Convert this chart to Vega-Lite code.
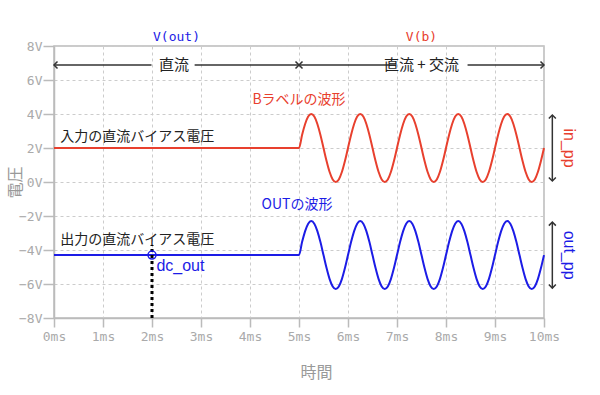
{
  "$schema": "https://vega.github.io/schema/vega-lite/v6.json",
  "autosize": {"type": "none"},
  "width": 490,
  "height": 272,
  "padding": {"left": 54, "top": 46, "right": 56, "bottom": 77},
  "background": "white",
  "config": {
    "font": "Noto Sans CJK JP",
    "view": {"stroke": "#bbbbbb", "strokeWidth": 1.5}
  },
  "datasets": {
    "wave": [
      {"t": 0, "vb": 2, "vout": -4.3},
      {"t": 5, "vb": 2, "vout": -4.3},
      {"t": 5.0625, "vb": 2.765, "vout": -3.535},
      {"t": 5.125, "vb": 3.414, "vout": -2.886},
      {"t": 5.1875, "vb": 3.848, "vout": -2.452},
      {"t": 5.25, "vb": 4, "vout": -2.3},
      {"t": 5.3125, "vb": 3.848, "vout": -2.452},
      {"t": 5.375, "vb": 3.414, "vout": -2.886},
      {"t": 5.4375, "vb": 2.765, "vout": -3.535},
      {"t": 5.5, "vb": 2, "vout": -4.3},
      {"t": 5.5625, "vb": 1.235, "vout": -5.065},
      {"t": 5.625, "vb": 0.586, "vout": -5.714},
      {"t": 5.6875, "vb": 0.152, "vout": -6.148},
      {"t": 5.75, "vb": 0, "vout": -6.3},
      {"t": 5.8125, "vb": 0.152, "vout": -6.148},
      {"t": 5.875, "vb": 0.586, "vout": -5.714},
      {"t": 5.9375, "vb": 1.235, "vout": -5.065},
      {"t": 6, "vb": 2, "vout": -4.3},
      {"t": 6.0625, "vb": 2.765, "vout": -3.535},
      {"t": 6.125, "vb": 3.414, "vout": -2.886},
      {"t": 6.1875, "vb": 3.848, "vout": -2.452},
      {"t": 6.25, "vb": 4, "vout": -2.3},
      {"t": 6.3125, "vb": 3.848, "vout": -2.452},
      {"t": 6.375, "vb": 3.414, "vout": -2.886},
      {"t": 6.4375, "vb": 2.765, "vout": -3.535},
      {"t": 6.5, "vb": 2, "vout": -4.3},
      {"t": 6.5625, "vb": 1.235, "vout": -5.065},
      {"t": 6.625, "vb": 0.586, "vout": -5.714},
      {"t": 6.6875, "vb": 0.152, "vout": -6.148},
      {"t": 6.75, "vb": 0, "vout": -6.3},
      {"t": 6.8125, "vb": 0.152, "vout": -6.148},
      {"t": 6.875, "vb": 0.586, "vout": -5.714},
      {"t": 6.9375, "vb": 1.235, "vout": -5.065},
      {"t": 7, "vb": 2, "vout": -4.3},
      {"t": 7.0625, "vb": 2.765, "vout": -3.535},
      {"t": 7.125, "vb": 3.414, "vout": -2.886},
      {"t": 7.1875, "vb": 3.848, "vout": -2.452},
      {"t": 7.25, "vb": 4, "vout": -2.3},
      {"t": 7.3125, "vb": 3.848, "vout": -2.452},
      {"t": 7.375, "vb": 3.414, "vout": -2.886},
      {"t": 7.4375, "vb": 2.765, "vout": -3.535},
      {"t": 7.5, "vb": 2, "vout": -4.3},
      {"t": 7.5625, "vb": 1.235, "vout": -5.065},
      {"t": 7.625, "vb": 0.586, "vout": -5.714},
      {"t": 7.6875, "vb": 0.152, "vout": -6.148},
      {"t": 7.75, "vb": 0, "vout": -6.3},
      {"t": 7.8125, "vb": 0.152, "vout": -6.148},
      {"t": 7.875, "vb": 0.586, "vout": -5.714},
      {"t": 7.9375, "vb": 1.235, "vout": -5.065},
      {"t": 8, "vb": 2, "vout": -4.3},
      {"t": 8.0625, "vb": 2.765, "vout": -3.535},
      {"t": 8.125, "vb": 3.414, "vout": -2.886},
      {"t": 8.1875, "vb": 3.848, "vout": -2.452},
      {"t": 8.25, "vb": 4, "vout": -2.3},
      {"t": 8.3125, "vb": 3.848, "vout": -2.452},
      {"t": 8.375, "vb": 3.414, "vout": -2.886},
      {"t": 8.4375, "vb": 2.765, "vout": -3.535},
      {"t": 8.5, "vb": 2, "vout": -4.3},
      {"t": 8.5625, "vb": 1.235, "vout": -5.065},
      {"t": 8.625, "vb": 0.586, "vout": -5.714},
      {"t": 8.6875, "vb": 0.152, "vout": -6.148},
      {"t": 8.75, "vb": 0, "vout": -6.3},
      {"t": 8.8125, "vb": 0.152, "vout": -6.148},
      {"t": 8.875, "vb": 0.586, "vout": -5.714},
      {"t": 8.9375, "vb": 1.235, "vout": -5.065},
      {"t": 9, "vb": 2, "vout": -4.3},
      {"t": 9.0625, "vb": 2.765, "vout": -3.535},
      {"t": 9.125, "vb": 3.414, "vout": -2.886},
      {"t": 9.1875, "vb": 3.848, "vout": -2.452},
      {"t": 9.25, "vb": 4, "vout": -2.3},
      {"t": 9.3125, "vb": 3.848, "vout": -2.452},
      {"t": 9.375, "vb": 3.414, "vout": -2.886},
      {"t": 9.4375, "vb": 2.765, "vout": -3.535},
      {"t": 9.5, "vb": 2, "vout": -4.3},
      {"t": 9.5625, "vb": 1.235, "vout": -5.065},
      {"t": 9.625, "vb": 0.586, "vout": -5.714},
      {"t": 9.6875, "vb": 0.152, "vout": -6.148},
      {"t": 9.75, "vb": 0, "vout": -6.3},
      {"t": 9.8125, "vb": 0.152, "vout": -6.148},
      {"t": 9.875, "vb": 0.586, "vout": -5.714},
      {"t": 9.9375, "vb": 1.235, "vout": -5.065},
      {"t": 10, "vb": 2, "vout": -4.3}
    ]
  },
  "layer": [
    {
      "data": {"name": "wave"},
      "transform": [{"fold": ["vb", "vout"], "as": ["s", "v"]}],
      "mark": {"type": "line", "strokeWidth": 2, "interpolate": "monotone"},
      "encoding": {
        "x": {
          "field": "t", "type": "quantitative",
          "scale": {"domain": [0, 10], "nice": false},
          "axis": {
            "values": [0, 1, 2, 3, 4, 5, 6, 7, 8, 9, 10],
            "labelExpr": "datum.value + 'ms'",
            "labelFont": "DejaVu Sans Mono",
            "labelFontSize": 13,
            "labelColor": "#aaaaaa",
            "labelPadding": 3,
            "labelFlush": false,
            "labelOverlap": false,
            "domainColor": "#bbbbbb",
            "domainWidth": 1.5,
            "tickColor": "#bbbbbb",
            "tickWidth": 1.5,
            "tickSize": 9,
            "gridColor": "#cccccc",
            "gridDash": [3, 3],
            "title": "時間",
            "titleFont": "Noto Sans CJK JP",
            "titleFontSize": 16,
            "titleFontWeight": "normal",
            "titleColor": "#999999",
            "titleX": 262,
            "titleY": 54,
            "titleBaseline": "middle"
          }
        },
        "y": {
          "field": "v", "type": "quantitative",
          "scale": {"domain": [-8, 8], "nice": false},
          "axis": {
            "tickCount": 8,
            "labelExpr": "format(datum.value, 'd') + 'V'",
            "labelFont": "DejaVu Sans Mono",
            "labelFontSize": 13,
            "labelColor": "#aaaaaa",
            "labelPadding": 1,
            "labelFlush": false,
            "labelOverlap": false,
            "labelSeparation": 0,
            "domainColor": "#bbbbbb",
            "domainWidth": 1.5,
            "tickColor": "#bbbbbb",
            "tickWidth": 1.5,
            "tickSize": 11,
            "gridColor": "#cccccc",
            "gridDash": [3, 3],
            "title": "電圧",
            "titleFont": "Noto Sans CJK JP",
            "titleFontSize": 16,
            "titleFontWeight": "normal",
            "titleColor": "#999999",
            "titleX": -39,
            "titleBaseline": "middle"
          }
        },
        "color": {
          "field": "s", "type": "nominal",
          "scale": {"domain": ["vb", "vout"], "range": ["#e8402e", "#1c1ce6"]},
          "legend": null
        }
      }
    },
    {
      "data": {"values": [{"x": 2, "y": -8, "y2": -3.7}]},
      "mark": {"type": "rule", "color": "#000000", "strokeWidth": 3, "strokeDash": [3, 3]},
      "encoding": {
        "x": {"field": "x", "type": "quantitative"},
        "y": {"field": "y", "type": "quantitative"},
        "y2": {"field": "y2"}
      }
    },
    {
      "data": {"values": [{"x": 2, "y": -4.3}]},
      "mark": {"type": "point", "shape": "circle", "filled": false, "size": 64, "strokeWidth": 1.5, "color": "#1c1ce6", "opacity": 1},
      "encoding": {
        "x": {"field": "x", "type": "quantitative"},
        "y": {"field": "y", "type": "quantitative"}
      }
    },
    {
      "data": {"values": [
        {"x": 0, "x2": 1.99, "y": 6.88, "y2": 6.88},
        {"x": 2.87, "x2": 5, "y": 6.88, "y2": 6.88},
        {"x": 5, "x2": 6.97, "y": 6.88, "y2": 6.88},
        {"x": 8.44, "x2": 10, "y": 6.88, "y2": 6.88},
        {"x": 10.17, "x2": 10.17, "y": 3.94, "y2": 0.06},
        {"x": 10.17, "x2": 10.17, "y": -2.36, "y2": -6.24}
      ]},
      "mark": {"type": "rule", "color": "#333333", "strokeWidth": 1.5},
      "encoding": {
        "x": {"field": "x", "type": "quantitative"},
        "x2": {"field": "x2"},
        "y": {"field": "y", "type": "quantitative"},
        "y2": {"field": "y2"}
      }
    },
    {
      "data": {"values": [
        {"x": 0, "y": 6.88, "d": "l"},
        {"x": 5, "y": 6.88, "d": "r"},
        {"x": 5, "y": 6.88, "d": "l"},
        {"x": 10, "y": 6.88, "d": "r"},
        {"x": 10.17, "y": 3.94, "d": "u"},
        {"x": 10.17, "y": 0.06, "d": "d"},
        {"x": 10.17, "y": -2.36, "d": "u"},
        {"x": 10.17, "y": -6.24, "d": "d"}
      ]},
      "mark": {"type": "point", "filled": false, "size": 49, "strokeWidth": 1.5, "color": "#333333", "opacity": 1},
      "encoding": {
        "x": {"field": "x", "type": "quantitative"},
        "y": {"field": "y", "type": "quantitative"},
        "shape": {
          "field": "d", "type": "nominal",
          "scale": {"domain": ["l", "r", "u", "d"], "range": ["M1,-1L0,0L1,1", "M-1,-1L0,0L-1,1", "M-1,1L0,0L1,1", "M-1,-1L0,0L1,-1"]},
          "legend": null
        }
      }
    },
    {
      "data": {"values": [
        {"x": 2.5, "y": 8.53, "label": "V(out)", "s": "vout"},
        {"x": 7.5, "y": 8.53, "label": "V(b)", "s": "vb"}
      ]},
      "mark": {"type": "text", "font": "DejaVu Sans Mono", "fontSize": 13, "align": "center", "baseline": "middle"},
      "encoding": {
        "x": {"field": "x", "type": "quantitative"},
        "y": {"field": "y", "type": "quantitative"},
        "text": {"field": "label"},
        "color": {"field": "s", "type": "nominal"}
      }
    },
    {
      "data": {"values": [
        {"x": 2.45, "y": 6.88, "label": "直流"},
        {"x": 7.5, "y": 6.88, "label": "直流 + 交流"}
      ]},
      "mark": {"type": "text", "font": "Noto Sans CJK JP", "fontSize": 15, "align": "center", "baseline": "middle", "color": "#222222"},
      "encoding": {
        "x": {"field": "x", "type": "quantitative"},
        "y": {"field": "y", "type": "quantitative"},
        "text": {"field": "label"}
      }
    },
    {
      "data": {"values": [
        {"x": 0.13, "y": 2.65, "label": "入力の直流バイアス電圧"},
        {"x": 0.13, "y": -3.4, "label": "出力の直流バイアス電圧"}
      ]},
      "mark": {"type": "text", "font": "Noto Sans CJK JP", "fontSize": 14, "align": "left", "baseline": "middle", "color": "#222222"},
      "encoding": {
        "x": {"field": "x", "type": "quantitative"},
        "y": {"field": "y", "type": "quantitative"},
        "text": {"field": "label"}
      }
    },
    {
      "data": {"values": [
        {"x": 5.0, "y": 4.82, "label": "Bラベルの波形", "s": "vb"},
        {"x": 4.96, "y": -1.35, "label": "OUTの波形", "s": "vout"}
      ]},
      "mark": {"type": "text", "font": "Noto Sans CJK JP", "fontSize": 14, "align": "center", "baseline": "middle"},
      "encoding": {
        "x": {"field": "x", "type": "quantitative"},
        "y": {"field": "y", "type": "quantitative"},
        "text": {"field": "label"},
        "color": {"field": "s", "type": "nominal"}
      }
    },
    {
      "data": {"values": [
        {"x": 2.09, "y": -4.94, "label": "dc_out", "s": "vout"}
      ]},
      "mark": {"type": "text", "font": "Liberation Sans", "fontSize": 16, "align": "left", "baseline": "middle"},
      "encoding": {
        "x": {"field": "x", "type": "quantitative"},
        "y": {"field": "y", "type": "quantitative"},
        "text": {"field": "label"},
        "color": {"field": "s", "type": "nominal"}
      }
    },
    {
      "data": {"values": [
        {"x": 10.5, "y": 2.0, "label": "in_pp", "s": "vb"},
        {"x": 10.5, "y": -4.3, "label": "out_pp", "s": "vout"}
      ]},
      "mark": {"type": "text", "font": "Liberation Sans", "fontSize": 16, "align": "center", "baseline": "middle", "angle": 90},
      "encoding": {
        "x": {"field": "x", "type": "quantitative"},
        "y": {"field": "y", "type": "quantitative"},
        "text": {"field": "label"},
        "color": {"field": "s", "type": "nominal"}
      }
    }
  ]
}
